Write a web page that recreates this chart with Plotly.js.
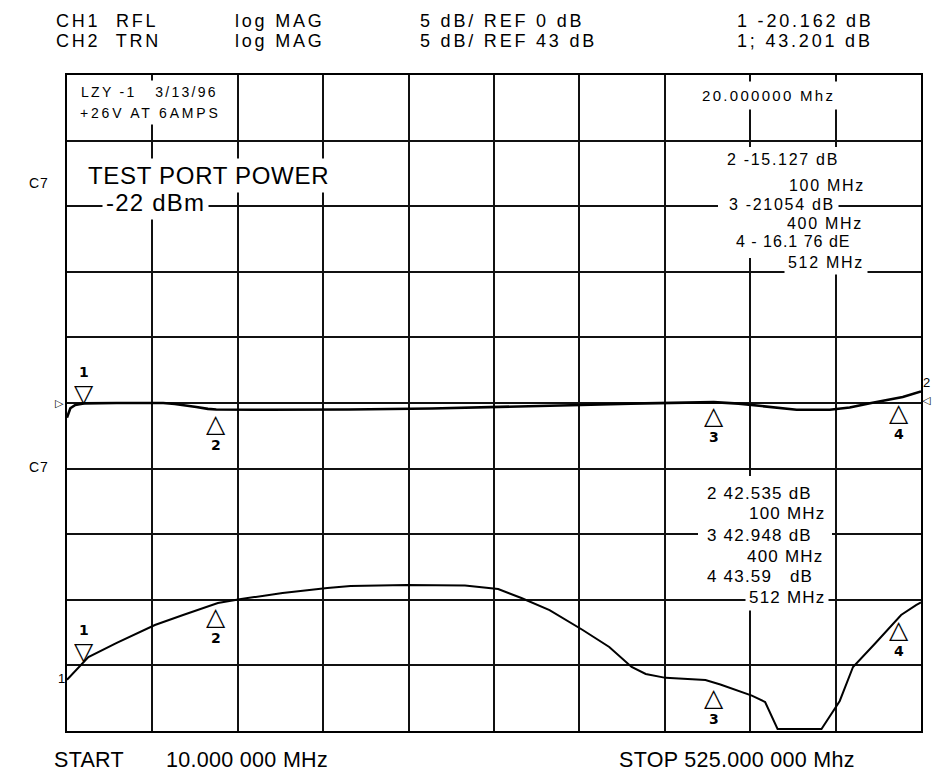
<!DOCTYPE html>
<html><head><meta charset="utf-8">
<script src="https://cdn.plot.ly/plotly-3.0.1.min.js"></script>
<style>html,body{margin:0;padding:0;background:#fff;} #chart{width:932px;height:772px;}</style>
</head><body><div id="chart"></div>
<script>
// ---------------- DATA ----------------
// CH1 RFL trace: frequency (MHz) and log MAG (dB), REF 0 dB, 5 dB/div
const ch1Freq = [10, 12, 15, 20, 40, 68, 75, 80, 88, 95, 100, 130, 180, 230, 280, 320, 350, 380, 400, 415, 430, 450, 470, 482, 495, 508, 514, 525];
const ch1Db   = [-1.12, -0.40, -0.15, -0.03, 0.0, 0.0, -0.08, -0.15, -0.30, -0.45, -0.50, -0.52, -0.50, -0.42, -0.30, -0.15, -0.05, 0.05, 0.07, -0.05, -0.26, -0.51, -0.52, -0.34, 0.0, 0.30, 0.45, 0.88];
// CH2 TRN trace: frequency (MHz) and log MAG (dB), REF 43 dB, 5 dB/div
const ch2Freq = [10, 22.9, 40, 63, 80, 101, 115, 140, 167, 181, 215, 250, 270, 284, 301, 321, 337, 350.5, 359, 371, 395, 404, 423, 431, 438.5, 465, 476, 484, 497.6, 513, 522, 525];
const ch2Db   = [21.9, 23.64, 24.71, 26.08, 26.84, 27.76, 28.06, 28.52, 28.90, 29.05, 29.12, 29.09, 28.82, 28.14, 27.22, 25.70, 24.40, 22.88, 22.35, 22.05, 21.89, 21.54, 20.70, 20.21, 18.15, 18.15, 20.29, 22.88, 24.71, 26.84, 27.60, 27.8];
// Markers
const markerNum  = ['1', '2', '3', '4'];
const markerFreq = [20, 100, 400, 512];
const ch1MarkerDb = [-0.03, -0.50, 0.07, 0.33];
const ch2MarkerDb = [23.3, 27.72, 21.6, 26.8];
// Axis settings
const startMHz = 10, stopMHz = 525;
const ch1Ref = 0, ch2Ref = 43, dbPerDiv = 5, nDiv = 10;
// Texts
const headerLeft  = ['CH1\u00a0 RFL', 'CH2\u00a0 TRN'];
const headerFmt   = ['log MAG', 'log MAG'];
const headerScale = ['5 dB/ REF 0 dB', '5 dB/ REF 43 dB'];
const headerMkr   = ['1 -20.162 dB', '1; 43.201 dB'];
const ch1Readout = ['2 -15.127 dB', '100 MHz', '3 -21054 dB', '400 MHz', '4 - 16.1 76 dE', '512 MHz'];
const ch2Readout = ['2 42.535 dB', '100 MHz', '3 42.948 dB', '400 MHz', '4 43.59\u00a0\u00a0 dB', '512 MHz'];

// ---------------- LAYOUT ----------------
const L = 67, R = 921, T = 75, B = 731, W = 932, H = 772;
const px = x => (x - L) / (R - L);
const py = y => (B - y) / (B - T);
const FONT = 'Liberation Sans, Arial, sans-serif';
const sp = (t, ls) => `<span style="letter-spacing:${ls}px">${t}</span>`;

function txt(x, y, text, size, ls, opts) {
  return Object.assign({
    xref: 'paper', yref: 'paper', x: px(x), y: py(y),
    xanchor: 'left', yanchor: 'middle', showarrow: false,
    text: sp(text, ls), font: {family: FONT, size: size, color: '#000'},
    borderpad: 1
  }, opts || {});
}

const ann = [];
// header
const hy = [21, 41];
for (let i = 0; i < 2; i++) {
  ann.push(txt(54, hy[i], headerLeft[i], 18, 2.8));
  ann.push(txt(233, hy[i], headerFmt[i], 18, 2.8));
  ann.push(txt(418, hy[i], headerScale[i], 18, 2.8));
  ann.push(txt(735, hy[i], headerMkr[i], 18, 2.8));
}
const bg = {bgcolor: '#fff', borderpad: 3};
ann.push(txt(77, 92, 'LZY -1\u00a0\u00a0 3/13/96', 14, 2.3, bg));
ann.push(txt(76, 113, '+26V AT 6AMPS', 14, 2.8, bg));
ann.push(txt(84, 175, 'TEST PORT POWER', 24, 0.7, bg));
ann.push(txt(102, 202, '-22 dBm', 24, 1.2, bg));
ann.push(txt(696, 95, '20.000000 Mhz', 15, 2.3, {bgcolor: '#fff', borderpad: 5}));
// CH1 readouts
const r1x = [723, 785, 725, 783, 732, 784], r1y = [160, 185, 205, 223, 242, 262];
for (let i = 0; i < 6; i++) ann.push(txt(r1x[i], r1y[i], ch1Readout[i], 16, i === 4 ? 1.0 : 1.7, bg));
// CH2 readouts
const r2x = [703, 745, 703, 743, 703, 745], r2y = [493, 513, 535, 556, 576, 597];
for (let i = 0; i < 6; i++) ann.push(txt(r2x[i], r2y[i], ch2Readout[i], 17, 1.2, bg));
// bottom
ann.push(txt(52, 760, 'START', 21.5, 0.3));
ann.push(txt(164, 760, '10.000 000 MHz', 21.5, 0.3));
ann.push(txt(617, 760, 'STOP 525.000 000 Mhz', 21.5, 0.3));
// side labels
ann.push(txt(27, 183, 'C7', 14, 1));
ann.push(txt(27, 467, 'C7', 14, 1));
ann.push(Object.assign(txt(53, 403, '\u25B7', 11, 0), {font: {family: 'DejaVu Sans', size: 11, color: '#000'}}));
ann.push(txt(921, 382, '2', 13, 0));
ann.push(Object.assign(txt(920, 400, '\u25C1', 11, 0), {font: {family: 'DejaVu Sans', size: 11, color: '#000'}}));
ann.push(txt(56, 678, '1', 13, 0));

// markers
const MF = {family: 'DejaVu Sans, sans-serif', size: 25, color: '#000'};
const NF = {family: 'DejaVu Sans, sans-serif', size: 14, color: '#000'};
function addMarker(f, v, yref, label) {
  if (label === '1') {
    ann.push({xref: 'x', yref: yref, x: f, y: v, text: '\u25BD', font: MF, showarrow: false,
              height: 25, valign: 'middle', xanchor: 'center', yanchor: 'bottom', yshift: -5});
    ann.push({xref: 'x', yref: yref, x: f, y: v, text: '<b>' + label + '</b>', font: NF, showarrow: false,
              height: 14, valign: 'middle', xanchor: 'center', yanchor: 'middle', yshift: 31});
  } else {
    ann.push({xref: 'x', yref: yref, x: f, y: v, text: '\u25B3', font: MF, showarrow: false,
              height: 25, valign: 'middle', xanchor: 'center', yanchor: 'top', yshift: 1});
    ann.push({xref: 'x', yref: yref, x: f, y: v, text: '<b>' + label + '</b>', font: NF, showarrow: false,
              height: 14, valign: 'middle', xanchor: 'center', yanchor: 'middle', yshift: -35});
  }
}
for (let i = 0; i < 4; i++) {
  addMarker(markerFreq[i], ch1MarkerDb[i], 'y', markerNum[i]);
  addMarker(markerFreq[i], ch2MarkerDb[i], 'y2', markerNum[i]);
}

const shapes = [
  {type: 'rect', xref: 'paper', yref: 'paper', x0: px(718), x1: px(837), y0: py(258), y1: py(147),
   fillcolor: '#fff', line: {width: 0}, layer: 'above'},
  {type: 'rect', xref: 'paper', yref: 'paper', x0: px(698), x1: px(832), y0: py(592), y1: py(476),
   fillcolor: '#fff', line: {width: 0}, layer: 'above'}
];

const axisCommon = {
  showgrid: true, gridcolor: '#111', gridwidth: 2, zeroline: false,
  showline: true, linecolor: '#000', linewidth: 2, mirror: true,
  showticklabels: false, ticks: '', fixedrange: true
};

const traces = [
  {x: ch1Freq, y: ch1Db, type: 'scatter', mode: 'lines', yaxis: 'y',
   line: {color: '#000', width: 2.6}, name: 'CH1 RFL', hoverinfo: 'skip'},
  {x: ch2Freq, y: ch2Db, type: 'scatter', mode: 'lines', yaxis: 'y2',
   line: {color: '#000', width: 2}, name: 'CH2 TRN', hoverinfo: 'skip'}
];

const divMHz = (stopMHz - startMHz) / nDiv;
const layout = {
  width: W, height: H,
  margin: {l: L, r: W - R, t: T, b: H - B, pad: 0},
  paper_bgcolor: '#fff', plot_bgcolor: '#fff',
  showlegend: false,
  xaxis: Object.assign({}, axisCommon, {range: [startMHz, stopMHz], tick0: startMHz, dtick: divMHz}),
  yaxis: Object.assign({}, axisCommon, {range: [ch1Ref - dbPerDiv * nDiv / 2, ch1Ref + dbPerDiv * nDiv / 2], tick0: ch1Ref, dtick: dbPerDiv}),
  yaxis2: {overlaying: 'y', range: [ch2Ref - dbPerDiv * nDiv / 2, ch2Ref + dbPerDiv * nDiv / 2],
           showgrid: false, zeroline: false, showline: false, showticklabels: false, ticks: '', fixedrange: true},
  annotations: ann,
  shapes: shapes
};

Plotly.newPlot('chart', traces, layout, {staticPlot: true, displayModeBar: false});
</script>
</body></html>
